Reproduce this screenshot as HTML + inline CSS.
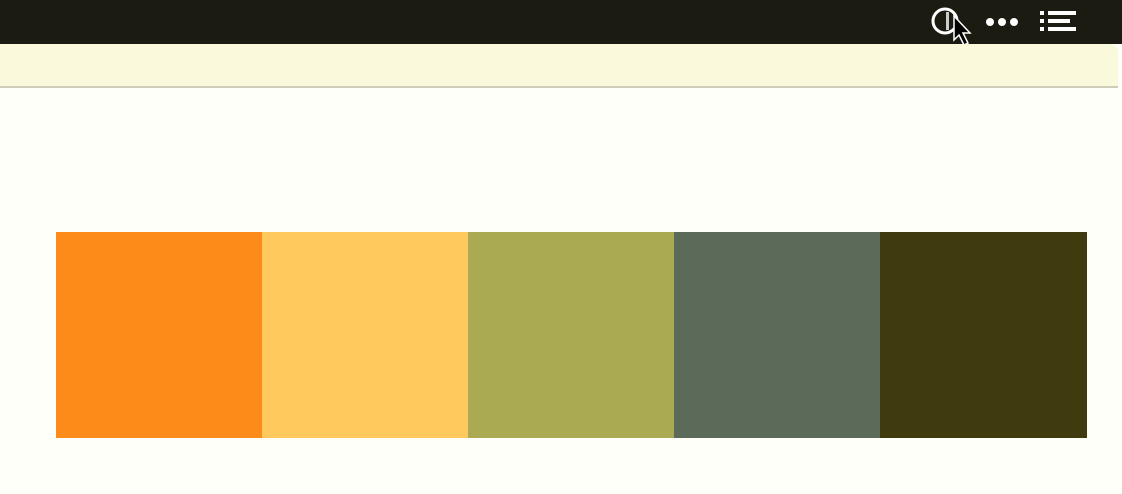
<!DOCTYPE html>
<html><head><meta charset="utf-8"><style>
body{margin:0;width:1122px;height:494px;overflow:hidden;background:#fffffa;font-family:"Liberation Sans",sans-serif;position:relative}
#top{position:absolute;left:0;top:0;width:1122px;height:44px;background:#1c1b12}
#bar{position:absolute;left:0;top:44px;width:1118px;height:42px;background:#fbf9dc;border-bottom:2px solid #cfcdb8;border-top-right-radius:8px}
.sw{position:absolute;top:232px;height:206px}
</style></head><body>
<div id="top">
<svg width="1122" height="44" style="position:absolute;left:0;top:0">
<g><circle cx="945" cy="21" r="12" fill="none" stroke="#fff" stroke-width="3"/><rect x="946" y="12" width="3" height="18" fill="#ccc"/>
<path d="M954 16 L954 40 L959 35 L964 45 L968 43 L963 33 L970 33 Z" fill="#000" stroke="#fff" stroke-width="1.5"/></g>
<g fill="#fff"><circle cx="990" cy="22" r="4"/><circle cx="1002" cy="22" r="4"/><circle cx="1014" cy="22" r="4"/></g>
<g fill="#fff"><rect x="1040" y="11" width="4" height="4"/><rect x="1048" y="11" width="28" height="4"/><rect x="1040" y="19" width="4" height="4"/><rect x="1048" y="19" width="22" height="4"/><rect x="1040" y="27" width="4" height="4"/><rect x="1048" y="27" width="28" height="4"/></g>
</svg></div>
<div id="bar"></div>
<div id="pal"></div>
<script>
const colors=["#fd8b1a","#ffc95e","#aaaa52","#5c6a5a","#3f3b0e"];
const names=["orange","light-orange","olive","gray-green","dark-olive"];
const x0=56,x1=1086,w=(x1-x0)/colors.length;
const pal=document.getElementById('pal');
colors.forEach((c,i)=>{const d=document.createElement('div');d.className='sw';


d.style.left=(x0+i*w)+'px';d.style.width=(w+0.5)+'px';d.style.background=c;pal.appendChild(d);});
</script>
</body></html>
